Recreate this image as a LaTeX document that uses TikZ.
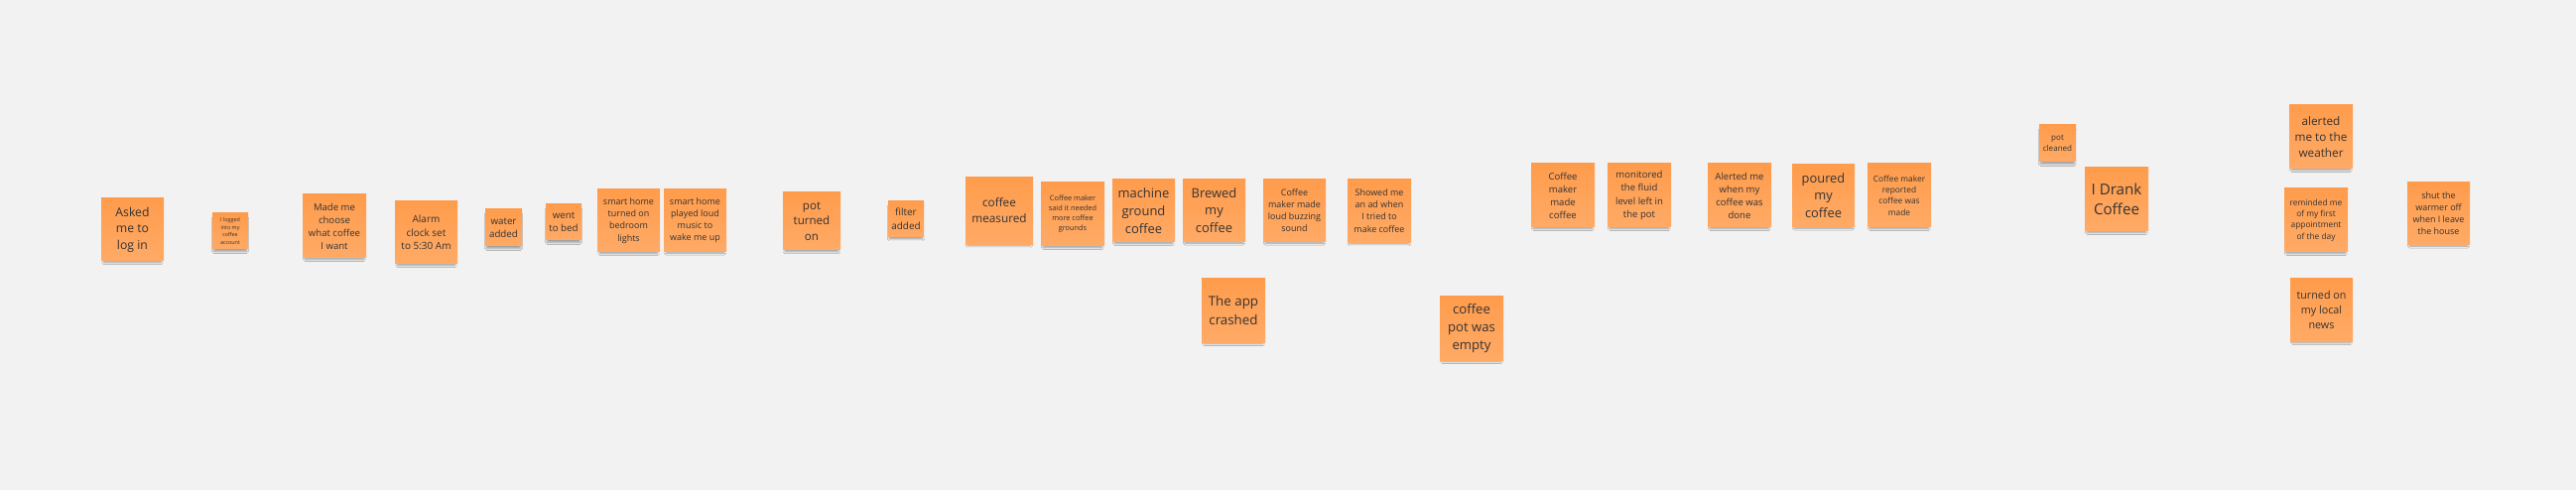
\documentclass[tikz,border=0pt]{standalone}
\usepackage{fontspec}
\setmainfont{Open Sans}
\usetikzlibrary{shadows.blur}
\definecolor{board}{HTML}{F2F2F2}
\definecolor{notetop}{HTML}{FF9C4C}
\definecolor{notebot}{HTML}{FFAA66}
\definecolor{ink}{HTML}{333333}
\begin{document}
\begin{tikzpicture}[x=1bp, y=-1bp,
  sticky/.style={top color=notetop, bottom color=notebot, draw=none,
    minimum size=#1bp, inner sep=1bp, align=center, text=ink,
    blur shadow={shadow xshift=0bp, shadow yshift=-4bp, shadow scale=0.93,
      shadow opacity=35, shadow blur steps=6}},
  fs/.style 2 args={font=\fontsize{#1}{#2}\selectfont}]
  \fill [board] (0,0) rectangle (2596,494);
  \useasboundingbox (0,0) rectangle (2596,494);
  % getting up
  \node [sticky=63,fs={12.3}{16.7}] (login) at (133.5,231.5) {Asked\\me to\\log in};
  \node [sticky=36,fs={5.4}{7.4}] (logged) at (232,233) {I logged\\into my\\coffee\\account};
  \node [sticky=64,fs={9.6}{13}] (choose) at (337,228) {Made me\\choose\\what coffee\\I want};
  \node [sticky=63,fs={10}{13.7}] (alarm) at (429.5,234.5) {Alarm\\clock set\\to 5:30 Am};
  \node [sticky=37,fs={9.8}{13.3}] (water) at (507.5,229.5) {water\\added};
  \node [sticky=36,fs={9.8}{13.3}] (bed) at (568,224) {went\\to bed};
  \node [sticky=63,fs={9}{12.2}] (lights) at (633.5,222.5) {smart home\\turned on\\bedroom\\lights};
  \node [sticky=63,fs={9}{12.2}] (music) at (700.5,222) {smart home\\played loud\\music to\\wake me up};
  % making coffee
  \node [sticky=58,fs={11.6}{15.8}] (poton) at (818,223) {pot\\turned\\on};
  \node [sticky=36,fs={10}{13.7}] (filter) at (913,220.5) {filter\\added};
  \node [sticky=68,fs={11.8}{16}] (measured) at (1007,212.5) {coffee\\measured};
  \node [sticky=64,fs={7.4}{10}] (grounds) at (1081,216) {Coffee maker\\said it needed\\more coffee\\grounds};
  \node [sticky=63,fs={13}{17.8}] (ground) at (1152.5,212.5) {machine\\ground\\coffee};
  \node [sticky=63,fs={13}{17.8}] (brewed) at (1223.5,212) {Brewed\\my\\coffee};
  \node [sticky=63,fs={9}{12.2}] (buzzing) at (1304.5,212) {Coffee\\maker made\\loud buzzing\\sound};
  \node [sticky=64,fs={9}{12.2}] (advert) at (1390,212.5) {Showed me\\an ad when\\I tried to\\make coffee};
  \node [sticky=64,fs={13.4}{18.3}] (crashed) at (1243,313) {The app\\crashed};
  \node [sticky=64,fs={13.2}{18}] (empty) at (1483,331) {coffee\\pot was\\empty};
  % coffee done
  \node [sticky=64,fs={9.6}{13.1}] (made) at (1575,197) {Coffee\\maker\\made\\coffee};
  \node [sticky=64,fs={9.6}{13.1}] (fluid) at (1652,197) {monitored\\the fluid\\level left in\\the pot};
  \node [sticky=64,fs={9.6}{13.1}] (done) at (1753,197) {Alerted me\\when my\\coffee was\\done};
  \node [sticky=63,fs={12.9}{17.5}] (poured) at (1837.5,197) {poured\\my\\coffee};
  \node [sticky=64,fs={8.4}{11.4}] (reported) at (1914,197) {Coffee maker\\reported\\coffee was\\made};
  \node [sticky=37,fs={8.1}{11}] (cleaned) at (2073.5,144.5) {pot\\cleaned};
  \node [sticky=64,fs={15.2}{20.7}] (drank) at (2133,201) {I Drank\\Coffee};
  % leaving the house
  \node [sticky=64,fs={11.8}{16}] (weather) at (2339,138) {alerted\\me to the\\weather};
  \node [sticky=64,fs={8.4}{11.4}] (appoint) at (2334,222) {reminded me\\of my first\\appointment\\of the day};
  \node [sticky=63,fs={9}{12.2}] (warmer) at (2457.5,215) {shut the\\warmer off\\when I leave\\the house};
  \node [sticky=63,fs={10.8}{14.7}] (news) at (2339.5,312.5) {turned on\\my local\\news};
\end{tikzpicture}
\end{document}
